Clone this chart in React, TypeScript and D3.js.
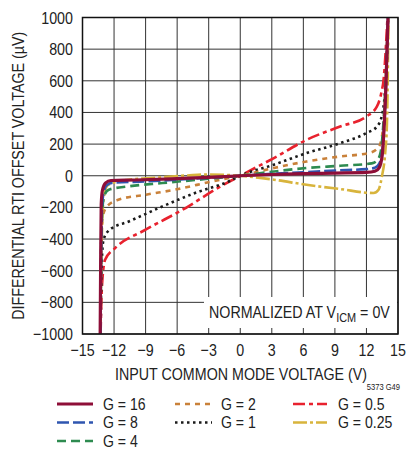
import React from "react";
import * as d3 from "d3";

const xTicks = [-15, -12, -9, -6, -3, 0, 3, 6, 9, 12, 15];
const yTicks = [-1000, -800, -600, -400, -200, 0, 200, 400, 600, 800, 1000];

const g16X = [-13.32, -13.28, -13.22, -13.1, -12.8, -12.3, -10, -6, -3, 0, 3, 6, 9, 12, 12.8, 13.2, 13.5, 13.7, 13.85, 14.05];
const g16Y = [-1000, -600, -180, -90, -45, -30, -27, -18, -10, 0, 8, 13, 17, 21, 28, 50, 130, 330, 560, 1000];

const g8X = [-13.3, -13.25, -13.15, -13.0, -12.7, -12.2, -9, -6, -3, 0, 3, 6, 9, 12, 12.8, 13.2, 13.5, 13.7, 13.85, 14.05];
const g8Y = [-1000, -600, -200, -110, -60, -45, -36, -25, -12, 0, 12, 22, 33, 42, 50, 75, 150, 340, 560, 1000];

const g4X = [-13.28, -13.22, -13.1, -12.9, -12.5, -10.6, -7.4, -3.3, 0, 3.2, 6.3, 9.5, 12.5, 13.0, 13.35, 13.6, 13.8, 14.05];
const g4Y = [-1000, -500, -200, -120, -88, -67, -46, -21, 0, 27, 49, 63, 78, 95, 150, 320, 560, 1000];

const g2X = [-13.28, -13.22, -13.05, -12.67, -11.6, -9, -5.9, -2.7, 0, 3.2, 6.3, 9.5, 12.2, 13.1, 13.45, 13.7, 13.85, 14.05];
const g2Y = [-1000, -400, -250, -194, -152, -120, -84, -36, 0, 49, 90, 122, 143, 175, 240, 400, 600, 1000];

const g1X = [-13.28, -13.2, -13.0, -12.4, -10.6, -7.4, -4.3, -1.1, 0, 3.2, 6.3, 9.5, 12.0, 13.0, 13.45, 13.65, 13.8, 13.95, 14.05];
const g1Y = [-1000, -600, -404, -341, -289, -194, -109, -36, 0, 70, 143, 206, 270, 311, 375, 450, 560, 750, 1000];

const g05X = [-13.28, -13.15, -12.85, -11.9, -9, -5.2, -2.4, 0, 3.2, 6.3, 9.5, 12.0, 13.0, 13.4, 13.65, 13.8, 13.92, 14.0];
const g05Y = [-1000, -700, -531, -457, -341, -204, -88, 0, 112, 227, 311, 375, 438, 520, 620, 760, 900, 1000];

const g025X = [-13.3, -13.2, -13.0, -12.6, -11, -8, -5, -3, 0, 3.2, 6.3, 9.5, 12.67, 13.15, 13.47, 13.78, 13.95, 14.1];
const g025Y = [-1000, -500, -150, -60, -28, -12, 2, 8, 0, -25, -57, -84, -109, -88, -4, 143, 330, 1000];

const seriesNames = ["G = 0.25", "G = 0.5", "G = 1", "G = 2", "G = 4", "G = 8", "G = 16"];

const FONT = "'Liberation Sans', Arial, sans-serif";
const SX = 0.84;

function T(props: { x: number; y: number; size?: number; sx?: number; anchor?: string; rot?: boolean; children: React.ReactNode }) {
  const { x, y, size = 17, sx = SX, anchor = "start", rot = false, children } = props;
  return (
    <text
      transform={`translate(${x},${y})${rot ? " rotate(-90)" : ""} scale(${sx},1)`}
      fontSize={size}
      textAnchor={anchor as any}
      fill="#222"
    >
      {children}
    </text>
  );
}

export default function App() {
  const left = 82.5, right = 398, top = 17.5, bottom = 334;
  const x = d3.scaleLinear().domain([-15, 15]).range([left, right]);
  const y = d3.scaleLinear().domain([-1000, 1000]).range([bottom, top]);

  const series = [
    { name: seriesNames[0], xs: g025X, ys: g025Y, color: "#D8B43C", dash: "14,3,3,3", w: 2.6 },
    { name: seriesNames[1], xs: g05X, ys: g05Y, color: "#E8222E", dash: "12,4,4,4", w: 2.6 },
    { name: seriesNames[2], xs: g1X, ys: g1Y, color: "#1a1a1a", dash: "2.5,3.5", w: 2.6 },
    { name: seriesNames[3], xs: g2X, ys: g2Y, color: "#C9813A", dash: "5,5", w: 2.6 },
    { name: seriesNames[4], xs: g4X, ys: g4Y, color: "#2E8B50", dash: "9,5", w: 2.6 },
    { name: seriesNames[5], xs: g8X, ys: g8Y, color: "#2F56B0", dash: "12,4", w: 2.6 },
    { name: seriesNames[6], xs: g16X, ys: g16Y, color: "#8E0E38", dash: "", w: 3.2 },
  ];

  const line = d3
    .line<[number, number]>()
    .x((d) => x(d[0]))
    .y((d) => y(d[1]))
    .curve(d3.curveMonotoneX);

  const legend = [
    { s: series[6], col: 0, row: 0 },
    { s: series[5], col: 0, row: 1 },
    { s: series[4], col: 0, row: 2 },
    { s: series[3], col: 1, row: 0 },
    { s: series[2], col: 1, row: 1 },
    { s: series[1], col: 2, row: 0 },
    { s: series[0], col: 2, row: 1 },
  ];
  const colLine = [[57, 93], [175, 212], [293, 327]];
  const colText = [103, 221, 338];

  return (
    <svg width={408} height={451} style={{ position: "absolute", left: 0, top: 0 }} fontFamily={FONT}>
      <rect width={408} height={451} fill="#fff" />
      <defs>
        <clipPath id="plotclip">
          <rect x={left} y={top} width={right - left} height={bottom - top} />
        </clipPath>
      </defs>
      {xTicks.map((t) => (
        <line key={"vx" + t} x1={x(t)} x2={x(t)} y1={top} y2={bottom} stroke="#333" strokeWidth={1} />
      ))}
      {yTicks.map((t) => (
        <line key={"hy" + t} x1={left} x2={right} y1={y(t)} y2={y(t)} stroke="#333" strokeWidth={1} />
      ))}
      <rect x={204} y={297} width={right - 204 - 1} height={31} fill="#fff" />
      <text transform={`translate(209,318) scale(${SX},1)`} fontSize={17} fill="#222">
        NORMALIZED AT V
        <tspan fontSize={13} dy={4}>ICM</tspan>
        <tspan dy={-4}> = 0V</tspan>
      </text>
      <g clipPath="url(#plotclip)">
        {series.map((s) => (
          <path
            key={s.name}
            d={line(s.xs.map((v, i) => [v, s.ys[i]] as [number, number])) || ""}
            fill="none"
            stroke={s.color}
            strokeWidth={s.w}
            strokeDasharray={s.dash}
            strokeLinejoin="round"
          />
        ))}
      </g>
      <rect x={left} y={top} width={right - left} height={bottom - top} fill="none" stroke="#111" strokeWidth={1.5} />
      {yTicks.map((t) => (
        <T key={"yl" + t} x={73} y={y(t) + 6} anchor="end">
          {t < 0 ? "\u2212" + Math.abs(t) : String(t)}
        </T>
      ))}
      {xTicks.map((t) => (
        <T key={"xl" + t} x={x(t)} y={356} anchor="middle">
          {t < 0 ? "\u2212" + Math.abs(t) : String(t)}
        </T>
      ))}
      <T x={241} y={380} anchor="middle">INPUT COMMON MODE VOLTAGE (V)</T>
      <T x={400} y={390} size={9} anchor="end">5373 G49</T>
      <T x={24} y={(top + bottom) / 2} anchor="middle" rot>
        DIFFERENTIAL RTI OFFSET VOLTAGE (µV)
      </T>
      {legend.map(({ s, col, row }) => {
        const cy = 404 + row * 18.5;
        return (
          <g key={"lg" + s.name}>
            <line x1={colLine[col][0]} x2={colLine[col][1]} y1={cy} y2={cy} stroke={s.color} strokeWidth={s.w} strokeDasharray={s.dash} />
            <T x={colText[col]} y={cy + 5.5} size={16} sx={0.88}>{s.name}</T>
          </g>
        );
      })}
    </svg>
  );
}
